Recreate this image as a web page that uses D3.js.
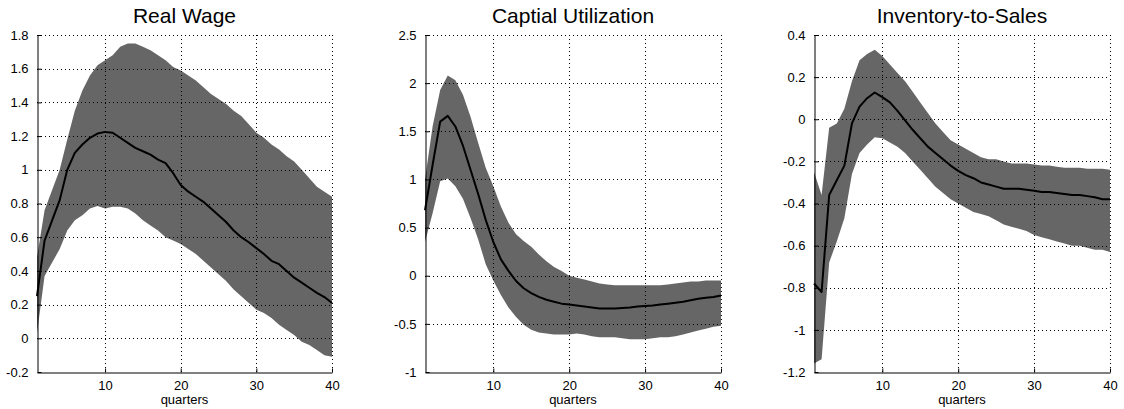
<!DOCTYPE html>
<html><head><meta charset="utf-8">
<script src="https://cdn.jsdelivr.net/npm/d3@7"></script>
<style>body{margin:0;background:#fff}svg{display:block}text{font-family:"Liberation Sans",Arial,sans-serif}</style>
</head><body><svg id="c" width="1124" height="409"></svg>
<script>
const quarters = d3.range(1, 41);
const titles = ["Real Wage", "Captial Utilization", "Inventory-to-Sales"];
const xTicks = [10, 20, 30, 40];
const yTicks1 = [-0.2, 0, 0.2, 0.4, 0.6, 0.8, 1, 1.2, 1.4, 1.6, 1.8];
const yTicks2 = [-1, -0.5, 0, 0.5, 1, 1.5, 2, 2.5];
const yTicks3 = [-1.2, -1, -0.8, -0.6, -0.4, -0.2, 0, 0.2, 0.4];

const wageMed = [0.25,0.58,0.70,0.82,1.00,1.10,1.15,1.19,1.215,1.225,1.22,1.19,1.16,1.13,1.11,1.09,1.06,1.04,0.98,0.91,0.87,0.84,0.81,0.77,0.73,0.69,0.64,0.60,0.57,0.535,0.50,0.46,0.44,0.40,0.36,0.33,0.30,0.27,0.245,0.21];
const wageHi = [0.48,0.76,0.88,1.00,1.18,1.35,1.47,1.56,1.62,1.65,1.68,1.73,1.75,1.75,1.73,1.71,1.68,1.65,1.61,1.59,1.56,1.53,1.49,1.45,1.42,1.39,1.35,1.32,1.27,1.22,1.19,1.15,1.12,1.08,1.05,1.00,0.95,0.90,0.87,0.84];
const wageLo = [0.03,0.37,0.45,0.53,0.64,0.70,0.73,0.77,0.785,0.77,0.78,0.78,0.77,0.74,0.70,0.67,0.64,0.60,0.58,0.56,0.53,0.50,0.46,0.42,0.38,0.34,0.29,0.25,0.21,0.17,0.15,0.12,0.08,0.05,0.02,-0.02,-0.04,-0.07,-0.10,-0.11];

const capMed = [0.68,1.15,1.60,1.66,1.55,1.35,1.10,0.85,0.58,0.35,0.17,0.05,-0.055,-0.13,-0.18,-0.22,-0.25,-0.27,-0.29,-0.30,-0.31,-0.32,-0.33,-0.34,-0.34,-0.34,-0.335,-0.33,-0.32,-0.315,-0.31,-0.30,-0.29,-0.28,-0.27,-0.255,-0.24,-0.23,-0.22,-0.205];
const capHi = [1.0,1.55,1.93,2.08,2.03,1.88,1.65,1.38,1.12,0.93,0.72,0.55,0.43,0.36,0.30,0.22,0.15,0.09,0.05,0.0,-0.02,-0.04,-0.06,-0.08,-0.09,-0.10,-0.10,-0.10,-0.10,-0.10,-0.10,-0.10,-0.09,-0.08,-0.07,-0.06,-0.06,-0.05,-0.05,-0.05];
const capLo = [0.35,0.65,0.98,1.01,0.93,0.80,0.60,0.38,0.12,-0.05,-0.20,-0.33,-0.43,-0.51,-0.56,-0.59,-0.60,-0.61,-0.61,-0.61,-0.60,-0.61,-0.63,-0.64,-0.64,-0.64,-0.65,-0.66,-0.66,-0.66,-0.65,-0.64,-0.64,-0.63,-0.61,-0.59,-0.57,-0.55,-0.53,-0.52];

const invMed = [-0.78,-0.82,-0.36,-0.29,-0.22,-0.02,0.06,0.10,0.127,0.105,0.08,0.04,-0.005,-0.05,-0.09,-0.13,-0.16,-0.19,-0.22,-0.245,-0.265,-0.28,-0.30,-0.31,-0.32,-0.33,-0.33,-0.33,-0.335,-0.34,-0.345,-0.345,-0.35,-0.355,-0.36,-0.36,-0.365,-0.37,-0.38,-0.38];
const invHi = [-0.25,-0.36,-0.04,-0.02,0.05,0.18,0.28,0.31,0.33,0.30,0.26,0.22,0.18,0.13,0.08,0.03,-0.02,-0.06,-0.10,-0.12,-0.14,-0.16,-0.18,-0.19,-0.19,-0.20,-0.21,-0.21,-0.21,-0.215,-0.22,-0.22,-0.225,-0.23,-0.23,-0.23,-0.235,-0.235,-0.235,-0.24];
const invLo = [-1.16,-1.14,-0.68,-0.58,-0.47,-0.26,-0.16,-0.12,-0.085,-0.09,-0.11,-0.13,-0.16,-0.20,-0.24,-0.28,-0.32,-0.35,-0.38,-0.40,-0.42,-0.44,-0.45,-0.46,-0.48,-0.50,-0.51,-0.52,-0.53,-0.55,-0.56,-0.57,-0.58,-0.59,-0.60,-0.60,-0.61,-0.62,-0.62,-0.63];

const panels = [
  {title: titles[0], med: wageMed, hi: wageHi, lo: wageLo, yTicks: yTicks1, left: 37, right: 332},
  {title: titles[1], med: capMed, hi: capHi, lo: capLo, yTicks: yTicks2, left: 425, right: 721},
  {title: titles[2], med: invMed, hi: invHi, lo: invLo, yTicks: yTicks3, left: 814, right: 1110}
];
const plotTop = 35, plotBottom = 372;
const svg = d3.select("#c");
const fmt = v => String(+v.toFixed(2));

panels.forEach(p => {
  const x = d3.scaleLinear().domain([1, 40]).range([p.left, p.right]);
  const y = d3.scaleLinear().domain([p.yTicks[0], p.yTicks[p.yTicks.length-1]]).range([plotBottom, plotTop]);
  const g = svg.append("g");
  const area = d3.area().x((d,i) => x(quarters[i])).y0((d,i) => y(p.lo[i])).y1((d,i) => y(p.hi[i]));
  g.append("path").datum(p.med).attr("d", area).attr("fill", "#666666").attr("stroke", "none");
  g.selectAll(".gx").data(xTicks).join("line")
    .attr("x1", d => Math.round(x(d))+0.5).attr("x2", d => Math.round(x(d))+0.5)
    .attr("y1", plotTop).attr("y2", plotBottom)
    .attr("stroke", "#000").attr("stroke-width", 1).attr("stroke-dasharray", "1,3");
  g.selectAll(".gy").data(p.yTicks.slice(1)).join("line")
    .attr("x1", p.left).attr("x2", p.right)
    .attr("y1", d => Math.round(y(d))+0.5).attr("y2", d => Math.round(y(d))+0.5)
    .attr("stroke", "#000").attr("stroke-width", 1).attr("stroke-dasharray", "1,3");
  const line = d3.line().x((d,i) => x(quarters[i])).y(d => y(d));
  g.append("path").datum(p.med).attr("d", line).attr("fill", "none").attr("stroke", "#000").attr("stroke-width", 2).attr("stroke-linejoin", "round");
  const xAxis = d3.axisBottom(x).tickValues(xTicks).tickSizeInner(-4).tickSizeOuter(0).tickPadding(10);
  const gx = g.append("g").attr("transform", `translate(0,${Math.round(y(p.yTicks[0]))+0.5})`).call(xAxis);
  const yAxis = d3.axisLeft(y).tickValues(p.yTicks).tickFormat(fmt).tickSizeInner(-4).tickSizeOuter(0).tickPadding(9);
  const gy = g.append("g").attr("transform", `translate(${Math.round(p.left)+0.5},0)`).call(yAxis);
  [gx, gy].forEach(a => {
    a.select(".domain").attr("stroke", "#000");
    a.selectAll(".tick line").attr("stroke", "#000");
    a.selectAll("text").attr("font-size", 13).attr("fill", "#000").style("font-family", '"Liberation Sans",Arial,sans-serif');
  });
  gx.selectAll("text").attr("dy", "0.71em").attr("y", 8);
  g.append("text").attr("x", (p.left + p.right)/2).attr("y", 23).attr("text-anchor", "middle")
    .attr("font-size", 21).attr("fill", "#000").text(p.title);
  g.append("text").attr("x", (p.left + p.right)/2).attr("y", 404).attr("text-anchor", "middle")
    .attr("font-size", 13).attr("fill", "#000").text("quarters");
});
</script></body></html>
